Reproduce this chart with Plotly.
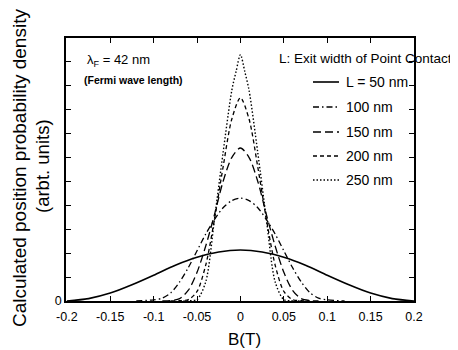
import plotly.graph_objects as go

# ---------------- data ----------------
B_50 = [-0.2, -0.175, -0.15, -0.125, -0.1, -0.075, -0.05, -0.025, 0.0,
        0.025, 0.05, 0.075, 0.1, 0.125, 0.15, 0.175, 0.2]
P_50 = [0.0, 0.1, 0.33, 0.68, 1.08, 1.5, 1.83, 2.05, 2.13,
        2.05, 1.83, 1.5, 1.08, 0.68, 0.33, 0.1, 0.0]

B_100 = [-0.12, -0.1, -0.09, -0.08, -0.07, -0.06, -0.05, -0.04, -0.03, -0.02, -0.01, 0.0,
         0.01, 0.02, 0.03, 0.04, 0.05, 0.06, 0.07, 0.08, 0.09, 0.1, 0.12]
P_100 = [0.0, 0.05, 0.12, 0.35, 0.8, 1.4, 2.1, 2.8, 3.4, 3.9, 4.2, 4.3,
         4.2, 3.9, 3.4, 2.8, 2.1, 1.4, 0.8, 0.35, 0.12, 0.05, 0.0]

B_150 = [-0.09, -0.08, -0.07, -0.06, -0.05, -0.04, -0.03, -0.02, -0.01, 0.0,
         0.01, 0.02, 0.03, 0.04, 0.05, 0.06, 0.07, 0.08, 0.09]
P_150 = [0.0, 0.02, 0.1, 0.45, 1.2, 2.3, 3.6, 5.0, 6.0, 6.4,
         6.0, 5.0, 3.6, 2.3, 1.2, 0.45, 0.1, 0.02, 0.0]

B_200 = [-0.08, -0.07, -0.06, -0.05, -0.04, -0.03, -0.02, -0.01, 0.0,
         0.01, 0.02, 0.03, 0.04, 0.05, 0.06, 0.07, 0.08]
P_200 = [0.0, 0.01, 0.06, 0.4, 1.5, 3.4, 5.6, 7.6, 8.5,
         7.6, 5.6, 3.4, 1.5, 0.4, 0.06, 0.01, 0.0]

B_250 = [-0.07, -0.06, -0.05, -0.04, -0.03, -0.02, -0.01, -0.005, 0.0,
         0.005, 0.01, 0.02, 0.03, 0.04, 0.05, 0.06, 0.07]
P_250 = [0.0, 0.01, 0.06, 0.8, 3.4, 6.2, 8.8, 9.6, 10.3,
         9.6, 8.8, 6.2, 3.4, 0.8, 0.06, 0.01, 0.0]

series_names = ["L = 50 nm", "100 nm", "150 nm", "200 nm", "250 nm"]

x_tickvals = [-0.2, -0.15, -0.1, -0.05, 0, 0.05, 0.1, 0.15, 0.2]
x_ticktext = ["-0.2", "-0.15", "-0.1", "-0.05", "0", "0.05", "0.1", "0.15", "0.2"]
y_tickvals = list(range(0, 12))
y_ticktext = ["0"] + [""] * 11

# ---------------- layout helpers ----------------
# The page has an 8px body margin, so the figure is drawn 8px smaller and
# everything is placed in window coordinates via the plot-area helpers.
OFF = 8
W, H = 458 - OFF, 350 - OFF
PL, PT, PR, PB = 66, 38, 414, 301          # plot area in window pixels
L, T = PL - OFF, PT - OFF
R, Bm = W - (PR - OFF), H - (PB - OFF)
PW, PH = PR - PL, PB - PT


def px(X):
    return (X - PL) / PW


def py(Y):
    return (PB - Y) / PH


FONT = "Liberation Sans, Arial, sans-serif"
dashes = ["solid", "6px,3px,1.5px,3px", "8px,4px", "4px,3px", "1.5px,2px"]
widths = [1.6, 1.3, 1.3, 1.3, 1.4]

xs = [B_50, B_100, B_150, B_200, B_250]
ys = [P_50, P_100, P_150, P_200, P_250]

fig = go.Figure()
for name, x, y, d, w in zip(series_names, xs, ys, dashes, widths):
    fig.add_trace(go.Scatter(x=x, y=y, mode="lines", name=name,
                             line=dict(color="black", width=w, dash=d,
                                       shape="spline", smoothing=0.8),
                             showlegend=False))

annotations = []
shapes = []

# legend drawn by hand
legend_y = [82, 107, 132, 156, 180]
for name, d, w, Y in zip(series_names, dashes, widths, legend_y):
    shapes.append(dict(type="line", xref="paper", yref="paper",
                       x0=px(313), x1=px(339), y0=py(Y), y1=py(Y),
                       line=dict(color="black", width=w, dash=d)))
    annotations.append(dict(text=name, xref="paper", yref="paper",
                            x=px(344), y=py(Y), xanchor="left", yanchor="middle",
                            showarrow=False,
                            font=dict(family=FONT, size=14, color="black")))

annotations += [
    dict(text="L: Exit width of Point Contact", xref="paper", yref="paper",
         x=px(454), y=py(58), xanchor="right", yanchor="middle", showarrow=False,
         font=dict(family=FONT, size=13.5, color="black")),
    dict(text="λ<sub>F</sub> = 42 nm", xref="paper", yref="paper",
         x=px(85), y=py(60), xanchor="left", yanchor="middle", showarrow=False,
         font=dict(family=FONT, size=13, color="black")),
    dict(text="<b>(Fermi wave length)</b>", xref="paper", yref="paper",
         x=px(82), y=py(80), xanchor="left", yanchor="middle", showarrow=False,
         font=dict(family=FONT, size=10.5, color="black")),
    dict(text="Calculated position probability density", xref="paper", yref="paper",
         x=px(19), y=py(168), xanchor="center", yanchor="middle", textangle=-90,
         showarrow=False, font=dict(family=FONT, size=19, color="black")),
    dict(text="(arbt. units)", xref="paper", yref="paper",
         x=px(42), y=py(166), xanchor="center", yanchor="middle", textangle=-90,
         showarrow=False, font=dict(family=FONT, size=18.5, color="black")),
    dict(text="B(T)", xref="paper", yref="paper",
         x=px(244), y=py(339), xanchor="center", yanchor="middle",
         showarrow=False, font=dict(family=FONT, size=17, color="black")),
]

fig.update_layout(
    width=W, height=H,
    margin=dict(l=L, r=R, t=T, b=Bm, pad=0),
    paper_bgcolor="white", plot_bgcolor="white",
    font=dict(family=FONT, size=12, color="black"),
    showlegend=False,
    annotations=annotations,
    shapes=shapes,
    xaxis=dict(range=[-0.201, 0.2], tickvals=x_tickvals, ticktext=x_ticktext,
               ticks="inside", ticklen=5, tickwidth=1, tickcolor="black",
               showline=True, linecolor="black", linewidth=1.5, mirror="ticks",
               showgrid=False, zeroline=False, ticklabelstandoff=3,
               tickfont=dict(size=12.5)),
    yaxis=dict(range=[0, 11], tickvals=y_tickvals, ticktext=y_ticktext,
               ticks="inside", ticklen=5, tickwidth=1, tickcolor="black",
               showline=True, linecolor="black", linewidth=1.5, mirror="ticks",
               showgrid=False, zeroline=False, tickfont=dict(size=12.5)),
)

fig.write_html("out.html")
